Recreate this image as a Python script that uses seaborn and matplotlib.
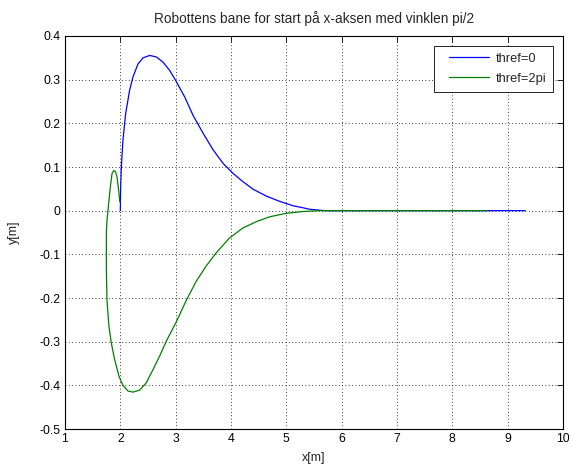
import numpy as np
import pandas as pd
import matplotlib
matplotlib.use("Agg")
import matplotlib.pyplot as plt
from matplotlib.legend_handler import HandlerLine2D
from matplotlib.lines import Line2D
import seaborn as sns

# ---- data ----
blue_x = [2.00, 2.005, 2.018, 2.047, 2.096, 2.168, 2.228, 2.319, 2.41, 2.531, 2.652, 2.772,
          2.893, 3.014, 3.165, 3.315, 3.497, 3.678, 3.859, 4.04, 4.22, 4.40, 4.645, 4.886,
          5.127, 5.25, 5.43, 5.70, 7.00, 9.32]
blue_y = [0.00, 0.05, 0.10, 0.161, 0.222, 0.276, 0.306, 0.336, 0.350, 0.3555, 0.352, 0.340,
          0.321, 0.295, 0.260, 0.218, 0.177, 0.139, 0.108, 0.085, 0.066, 0.049, 0.033, 0.021,
          0.011, 0.008, 0.003, 0.0, 0.0, 0.0]

green_x = [1.99, 1.975, 1.94, 1.91, 1.88, 1.85, 1.82, 1.80, 1.776, 1.757, 1.747, 1.747, 1.747,
           1.758, 1.794, 1.837, 1.897, 1.975, 2.047, 2.138, 2.228, 2.349, 2.47, 2.59, 2.71, 2.83,
           3.01, 3.19, 3.37, 3.55, 3.73, 3.97, 4.21, 4.46, 4.70, 5.00, 5.30, 5.60, 8.62]
green_y = [0.02, 0.04, 0.078, 0.09, 0.092, 0.085, 0.055, 0.03, 0.0, -0.025, -0.052, -0.09, -0.128,
           -0.204, -0.265, -0.303, -0.341, -0.379, -0.400, -0.413, -0.4155, -0.411, -0.394, -0.364,
           -0.333, -0.299, -0.255, -0.206, -0.162, -0.127, -0.097, -0.063, -0.040, -0.025, -0.014,
           -0.006, -0.002, 0.0, 0.0]

labels = ["thref=0", "thref=2pi"]
x_ticks = [1, 2, 3, 4, 5, 6, 7, 8, 9, 10]
y_ticks = [-0.5, -0.4, -0.3, -0.2, -0.1, 0, 0.1, 0.2, 0.3, 0.4]
y_ticklabels = ["-0.5", "-0.4", "-0.3", "-0.2", "-0.1", "0", "0.1", "0.2", "0.3", "0.4"]

title = "Robottens bane for start på x-aksen med vinklen pi/2"
xlabel = "x[m]"
ylabel = "y[m]"

# ---- plotting ----
sns.set_style("white")
plt.rcParams['font.family'] = ['Liberation Sans', 'DejaVu Sans']
plt.rcParams['font.size'] = 9

fig = plt.figure(figsize=(5.72, 4.69), dpi=100)
ax = fig.add_axes([65 / 572, 1 - 429 / 469, (563 - 65) / 572, (429 - 36) / 469])

df_b = pd.DataFrame({"x": blue_x, "y": blue_y})
df_g = pd.DataFrame({"x": green_x, "y": green_y})
sns.lineplot(data=df_b, x="x", y="y", sort=False, estimator=None, color=(0, 0, 1),
             linewidth=0.9, label=labels[0], ax=ax)
sns.lineplot(data=df_g, x="x", y="y", sort=False, estimator=None, color=(0, 0.5, 0),
             linewidth=0.9, label=labels[1], ax=ax)

ax.set_xlim(1, 10)
ax.set_ylim(-0.5, 0.4)
ax.set_xticks(x_ticks)
ax.set_xticklabels([str(t) for t in x_ticks])
ax.set_yticks(y_ticks)
ax.set_yticklabels(y_ticklabels)
ax.grid(True, linestyle=(0, (1, 3)), color="black", linewidth=0.6)
ax.tick_params(direction="in", length=4, width=0.6, top=True, right=True,
               labelsize=8.8, colors="black", pad=3)
for s in ax.spines.values():
    s.set_visible(True)
    s.set_color("black")
    s.set_linewidth(0.8)

ax.set_title(title, fontsize=9.8, pad=9)
ax.set_xlabel(xlabel, fontsize=9)
ax.set_ylabel(ylabel, fontsize=9)
ax.yaxis.set_label_coords((20 - 65) / 498, 0.5)
ax.xaxis.set_label_coords(0.5, (429 - 452) / 393)

leg = ax.legend(loc="upper right", fancybox=False, edgecolor="black", framealpha=1,
                handlelength=4.3, fontsize=9.3, borderaxespad=0.75, borderpad=0.55,
                labelspacing=0.6, handletextpad=-0.1, numpoints=2,
                handler_map={Line2D: HandlerLine2D(marker_pad=0.6, numpoints=2)})
leg.get_frame().set_linewidth(0.6)

fig.savefig("out.png", dpi=100)
